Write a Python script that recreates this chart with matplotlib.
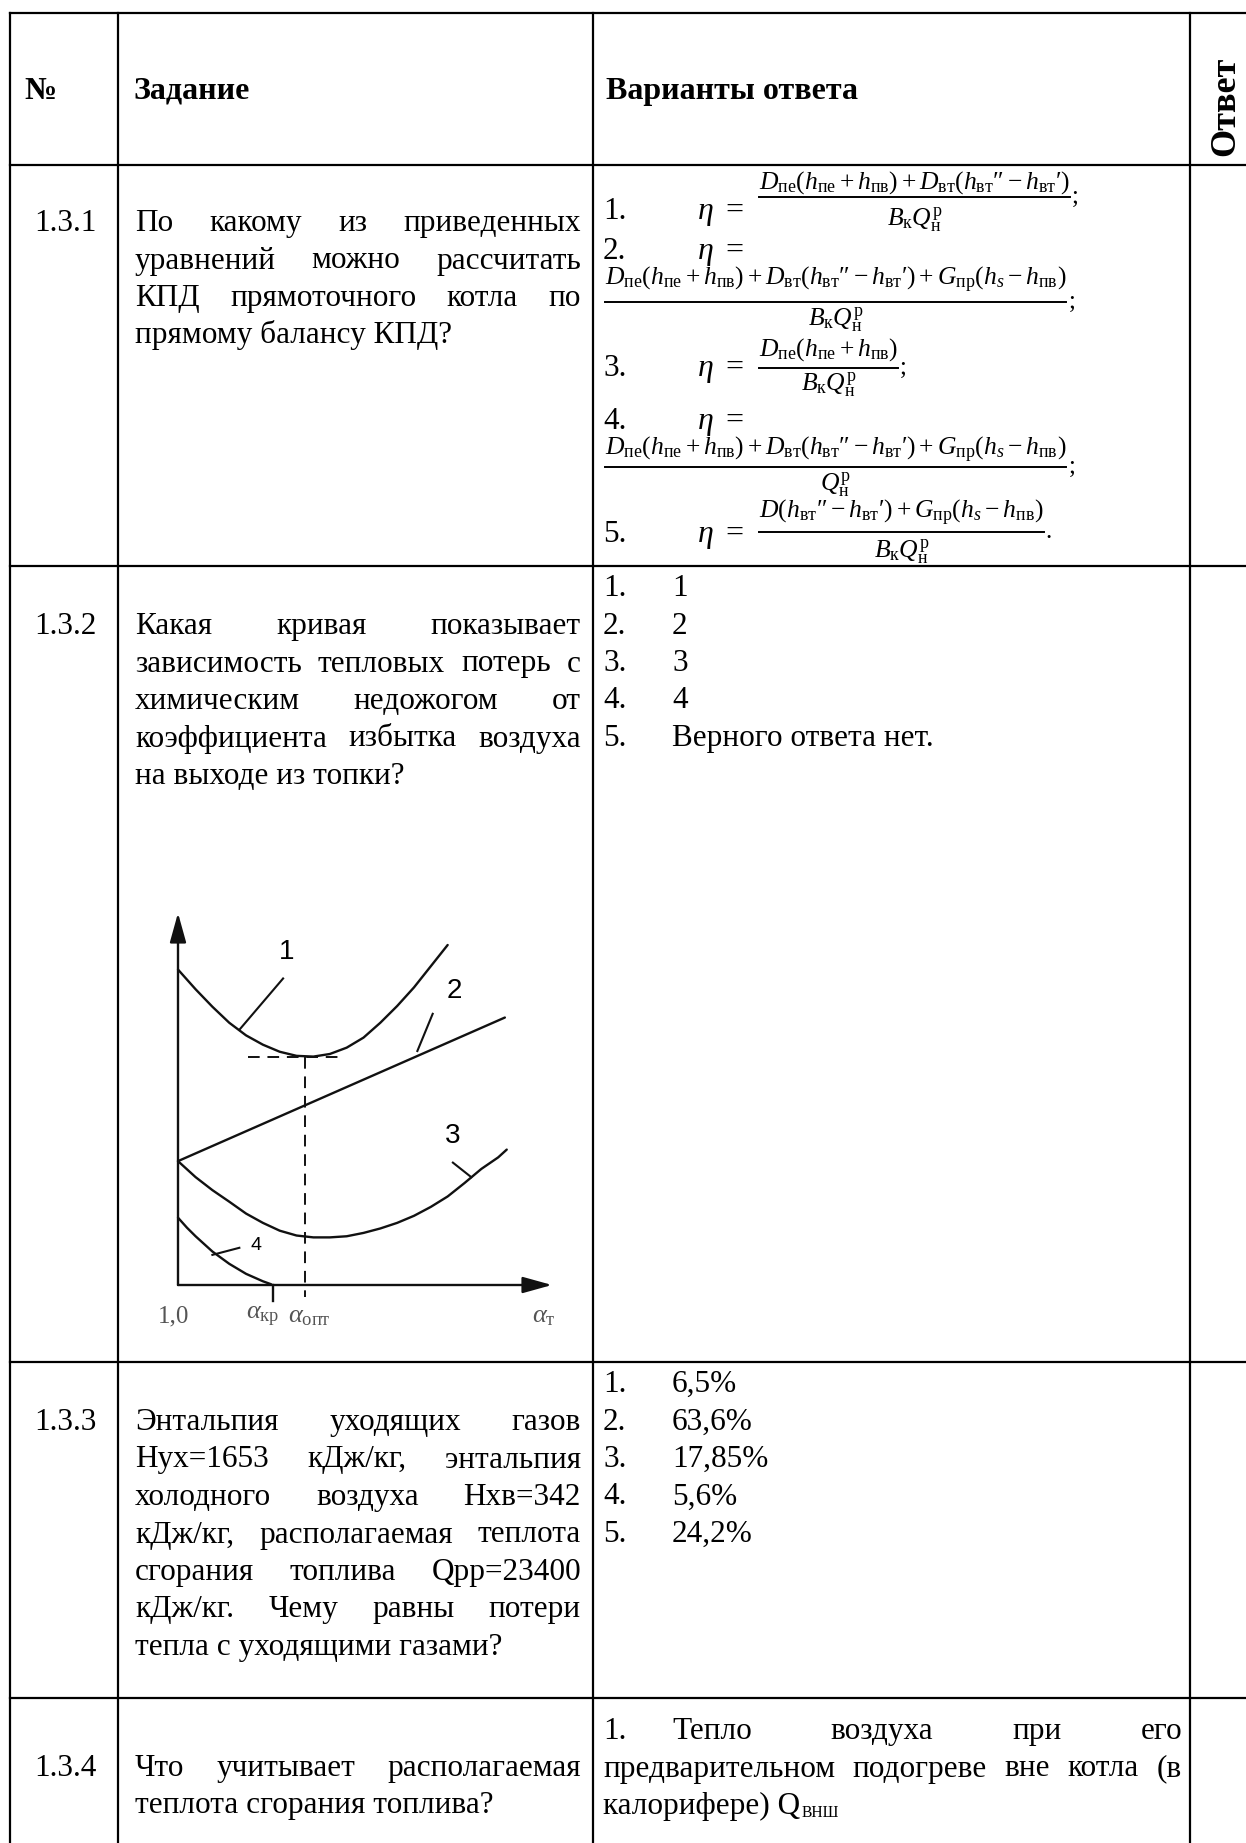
import matplotlib
matplotlib.use("Agg")
import matplotlib.pyplot as plt

W, H, DPI = 1246, 1843, 100

plt.rcParams['font.family'] = ['Liberation Serif', 'DejaVu Serif']
plt.rcParams['mathtext.fontset'] = 'custom'
plt.rcParams['mathtext.rm'] = 'Liberation Serif'
plt.rcParams['mathtext.it'] = 'Liberation Serif:italic'
plt.rcParams['mathtext.bf'] = 'Liberation Serif:bold'

# ---------------- data ----------------
header_labels = ["№", "Задание", "Варианты ответа", "Ответ"]
task_numbers = ["1.3.1", "1.3.2", "1.3.3", "1.3.4"]
task_texts = [
    ["По какому из приведенных", "уравнений можно рассчитать",
     "КПД прямоточного котла по", "прямому балансу КПД?"],
    ["Какая кривая показывает", "зависимость тепловых потерь с",
     "химическим недожогом от", "коэффициента избытка воздуха",
     "на выходе из топки?"],
    ["Энтальпия уходящих газов", "Нух=1653 кДж/кг, энтальпия",
     "холодного воздуха Нхв=342", "кДж/кг, располагаемая теплота",
     "сгорания топлива Qрр=23400", "кДж/кг. Чему равны потери",
     "тепла с уходящими газами?"],
    ["Что учитывает располагаемая", "теплота сгорания топлива?"],
]
formula_numerators = [
    r"$D_{\mathrm{пе}}(h_{\mathrm{пе}}+h_{\mathrm{пв}})+D_{\mathrm{вт}}(h_{\mathrm{вт}}\mathrm{″}-h_{\mathrm{вт}}\mathrm{′})$",
    r"$D_{\mathrm{пе}}(h_{\mathrm{пе}}+h_{\mathrm{пв}})+D_{\mathrm{вт}}(h_{\mathrm{вт}}\mathrm{″}-h_{\mathrm{вт}}\mathrm{′})+G_{\mathrm{пр}}(h_s-h_{\mathrm{пв}})$",
    r"$D_{\mathrm{пе}}(h_{\mathrm{пе}}+h_{\mathrm{пв}})$",
    r"$D_{\mathrm{пе}}(h_{\mathrm{пе}}+h_{\mathrm{пв}})+D_{\mathrm{вт}}(h_{\mathrm{вт}}\mathrm{″}-h_{\mathrm{вт}}\mathrm{′})+G_{\mathrm{пр}}(h_s-h_{\mathrm{пв}})$",
    r"$D(h_{\mathrm{вт}}\mathrm{″}-h_{\mathrm{вт}}\mathrm{′})+G_{\mathrm{пр}}(h_s-h_{\mathrm{пв}})$",
]
formula_denominators = [
    r"$B_{\mathrm{к}}Q_{\mathrm{н}}^{\mathrm{р}}$",
    r"$B_{\mathrm{к}}Q_{\mathrm{н}}^{\mathrm{р}}$",
    r"$B_{\mathrm{к}}Q_{\mathrm{н}}^{\mathrm{р}}$",
    r"$Q_{\mathrm{н}}^{\mathrm{р}}$",
    r"$B_{\mathrm{к}}Q_{\mathrm{н}}^{\mathrm{р}}$",
]
formula_ends = [";", ";", ";", ";", "."]
options_132 = ["1", "2", "3", "4", "Верного ответа нет."]
options_133 = ["6,5%", "63,6%", "17,85%", "5,6%", "24,2%"]
options_134 = ["Тепло воздуха при его",
               "предварительном подогреве вне котла (в",
               "калорифере) Q"]
options_134_sub = "ВНШ"

# chart (relative units: axes origin at 0, arrow tips at 10)
curve1_x = [0, 0.47, 0.92, 1.37, 1.82, 2.27, 2.72, 3.17, 3.62, 4.06, 4.51,
            4.96, 5.41, 5.86, 6.31, 6.76, 7.21]
curve1_y = [8.48, 7.95, 7.48, 7.05, 6.71, 6.46, 6.27, 6.16, 6.14, 6.21, 6.38,
            6.65, 7.05, 7.50, 8.00, 8.57, 9.14]
curve2_x = [0, 8.74]
curve2_y = [3.33, 7.19]
curve3_x = [0, 0.47, 0.92, 1.37, 1.82, 2.27, 2.72, 3.17, 3.62, 4.06, 4.51,
            4.96, 5.41, 5.86, 6.31, 6.76, 7.21, 7.66, 8.11, 8.56, 8.79]
curve3_y = [3.33, 2.90, 2.55, 2.24, 1.92, 1.67, 1.46, 1.33, 1.28, 1.28, 1.31,
            1.40, 1.52, 1.67, 1.86, 2.10, 2.38, 2.74, 3.12, 3.43, 3.64]
curve4_x = [0, 0.24, 0.47, 0.92, 1.37, 1.82, 2.27, 2.49]
curve4_y = [1.81, 1.54, 1.31, 0.90, 0.57, 0.30, 0.10, 0.02]
alpha_opt = 3.39
alpha_kr = 2.54
min_level = 6.14
curve_labels = ["1", "2", "3", "4"]
leader_from = [(1.64, 6.86), (6.40, 6.29), (7.84, 2.90), (0.92, 0.81)]
leader_to = [(2.81, 8.24), (6.81, 7.29), (7.35, 3.29), (1.64, 1.00)]
label_pos = [(2.90, 8.95), (7.39, 7.90), (7.35, 4.00), (2.09, 1.05)]
axis_labels = ["1,0", r"$\alpha_{\mathrm{кр}}$", r"$\alpha_{\mathrm{опт}}$", r"$\alpha_{\mathrm{т}}$"]
axis_label_x = [-0.12, 2.27, 3.50, 9.78]

# ---------------- figure ----------------
fig = plt.figure(figsize=(W / DPI, H / DPI), dpi=DPI)
ax = fig.add_axes([0, 0, 1, 1])
ax.set_xlim(0, W)
ax.set_ylim(H, 0)
ax.axis('off')
fig.canvas.draw()
renderer = fig.canvas.get_renderer()

LW = 1.6
# table grid
for yy in [13, 165, 566, 1362, 1698]:
    ax.plot([10, W], [yy, yy], color='black', lw=LW, solid_capstyle='projecting')
for xx in [10, 118, 593, 1190]:
    ax.plot([xx, xx], [13, H], color='black', lw=LW, solid_capstyle='projecting')

BODY = 22.5
HEAD = 23
OFF = 9  # center -> baseline offset


def width_of(s, size, **kw):
    t = ax.text(0, 0, s, fontsize=size, **kw)
    w = t.get_window_extent(renderer).width
    t.remove()
    return w


def put(x, yc, s, size=BODY, **kw):
    return ax.text(x, yc + OFF, s, fontsize=size, va='baseline', **kw)


def justified(lines, x0, x1, y0, dy, size=BODY, last_left=True):
    for i, line in enumerate(lines):
        yc = y0 + i * dy
        words = line.split()
        if (last_left and i == len(lines) - 1) or len(words) == 1:
            put(x0, yc, line, size)
            continue
        ws = [width_of(w, size) for w in words]
        gap = (x1 - x0 - sum(ws)) / (len(words) - 1)
        x = x0
        for w, wd in zip(words, ws):
            put(x, yc, w, size)
            x += wd + gap


# header
put(24, 90, header_labels[0], HEAD, fontweight='bold')
put(133, 90, header_labels[1], HEAD, fontweight='bold')
put(606, 90, header_labels[2], HEAD, fontweight='bold')
ax.text(1226, 106, header_labels[3], fontsize=26, fontweight='bold',
        rotation=90, ha='center', va='center')

# task numbers and texts
num_y = [222, 625, 1421, 1767]
for n, yc, lines in zip(task_numbers, num_y, task_texts):
    put(34, yc, n)
    justified(lines, 135, 581, yc, 37.5)

# --- formulas (row 1.3.1)
wref = width_of(formula_numerators[1], 15)
FS = 15 * 462 / wref
eq_y = [210, 250, 367, 420, 533]
num_left = [759, 605, 759, 605, 759]
num_y = [183, 280, 350, 450, 513]
bar_y = [197, 302, 368, 467, 532]
den_y = [220, 320, 385, 485, 552]
for i in range(5):
    put(603, eq_y[i], f"{i + 1}.")
    ax.text(697, eq_y[i] + OFF, r"$\eta\ =$", fontsize=23, va='baseline')
    wn = width_of(formula_numerators[i], FS)
    ax.text(num_left[i], num_y[i], formula_numerators[i], fontsize=FS,
            va='center', ha='left')
    ax.plot([num_left[i], num_left[i] + wn], [bar_y[i], bar_y[i]],
            color='black', lw=1.4)
    ax.text(num_left[i] + wn / 2, den_y[i], formula_denominators[i],
            fontsize=FS, va='center', ha='center')
    ax.text(num_left[i] + wn + 2, bar_y[i] + 6, formula_ends[i],
            fontsize=BODY * 0.8, va='baseline')

# --- options 1.3.2
for k, s in enumerate(options_132):
    yc = 587 + 37.5 * k
    put(603, yc, f"{k + 1}.")
    put(672, yc, s)

# --- options 1.3.3
for k, s in enumerate(options_133):
    yc = 1383 + 37.5 * k
    put(603, yc, f"{k + 1}.")
    put(672, yc, s)

# --- options 1.3.4
put(603, 1730, "1.")
justified([options_134[0]], 672, 1182, 1730, 37.5, last_left=False)
justified([options_134[1]], 603, 1182, 1767.5, 37.5, last_left=False)
put(603, 1805, options_134[2])
wq = width_of(options_134[2], BODY)
ax.text(603 + wq + 1, 1805 + OFF + 3, options_134_sub, fontsize=BODY * 0.5,
        va='baseline')

# ---------------- chart ----------------
px0, px1 = 178 - 37.4 * 1.5, 178 + 37.4 * 10.6
py_bot, py_top = 1285 + 37.2 * 1.6, 1285 - 37.2 * 10.4
ax2 = fig.add_axes([px0 / W, (H - py_bot) / H, (px1 - px0) / W, (py_bot - py_top) / H])
ax2.set_xlim(-1.5, 10.6)
ax2.set_ylim(-1.6, 10.4)
ax2.axis('off')
ax2.patch.set_alpha(0)

CW = 1.7
CC = '#111111'
for xs, ys in [(curve1_x, curve1_y), (curve2_x, curve2_y),
               (curve3_x, curve3_y), (curve4_x, curve4_y)]:
    ax2.plot(xs, ys, color=CC, lw=CW, solid_capstyle='round', solid_joinstyle='round')

for tip in [(0, 10), (10, 0)]:
    ax2.annotate('', xy=tip, xytext=(0, 0),
                 arrowprops=dict(arrowstyle='-|>,head_length=0.9,head_width=0.25',
                                 lw=CW, color=CC, mutation_scale=20,
                                 shrinkA=0, shrinkB=0))

ax2.plot([1.86, 4.47], [min_level, min_level], color=CC, lw=1.4, dashes=(6, 4))
ax2.plot([alpha_opt, alpha_opt], [min_level, -0.33], color=CC, lw=1.4, dashes=(6, 4))
ax2.plot([alpha_kr, alpha_kr], [0, -0.43], color=CC, lw=CW)

for (a, b), (c, d), (lx, ly), lab in zip(leader_from, leader_to, label_pos, curve_labels):
    ax2.plot([a, c], [b, d], color=CC, lw=1.5)
    ax2.text(lx, ly, lab, fontsize=14 if lab == "4" else 20,
             family=['Liberation Sans', 'DejaVu Sans'], ha='center', va='center')

for lab, lx in zip(axis_labels, axis_label_x):
    ax2.text(lx, -0.85, lab, fontsize=18 if lab == "1,0" else 19,
             color='#555555', ha='center', va='center')

fig.savefig("out.png", dpi=DPI, facecolor='white')
